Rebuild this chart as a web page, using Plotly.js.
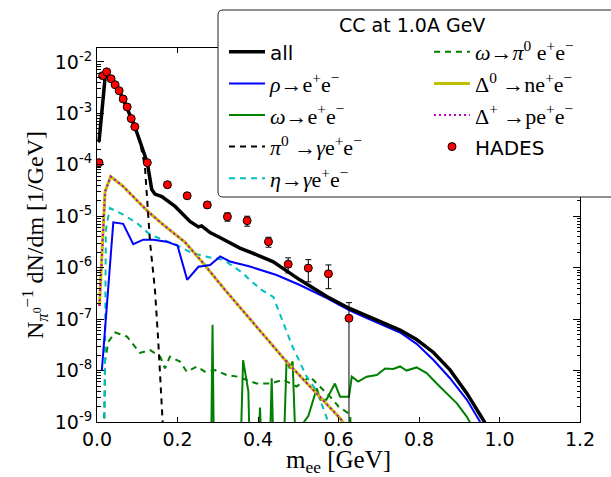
<!DOCTYPE html>
<html>
<head>
<meta charset="utf-8">
<script src="https://cdn.plot.ly/plotly-3.0.1.min.js"></script>
<style>html,body{margin:0;padding:0;background:#fff;}#chart{width:611px;height:477px;}</style>
</head>
<body>
<div id="chart"></div>
<script>
// ---- data ----
const allX = [0.005,0.0216,0.035,0.05,0.065,0.08,0.094,0.107,0.125,0.136,0.144,0.161,0.194,0.231,0.252,0.260,0.281,0.31,0.355,0.40,0.438,0.504,0.571,0.626,0.670,0.711,0.753,0.794,0.836,0.877,0.919,0.952,0.975];
const allY = [2.8e-4,6.5e-3,4.7e-3,3.2e-3,1.9e-3,1.02e-3,5.5e-4,2.8e-4,1.1e-4,3.3e-5,2.7e-5,2.4e-5,1.55e-5,7.9e-6,6.2e-6,6.5e-6,4.8e-6,3.7e-6,2.4e-6,1.74e-6,1.3e-6,5.8e-7,2.75e-7,1.63e-7,1.15e-7,8.5e-8,6.1e-8,4.0e-8,2.25e-8,1.03e-8,3.6e-9,1.37e-9,7e-10];

const rhoX = [0.012,0.0405,0.065,0.090,0.115,0.140,0.173,0.200,0.224,0.252,0.281,0.306,0.330,0.380,0.446,0.504,0.571,0.626,0.670,0.711,0.753,0.794,0.836,0.877,0.919,0.952,0.97];
const rhoY = [1e-8,7.6e-6,7.1e-6,2.86e-6,3.5e-6,3.5e-6,3.2e-6,2.7e-6,5.8e-7,1.04e-6,1.13e-6,1.65e-6,1.32e-6,1.05e-6,7.2e-7,4.6e-7,2.55e-7,1.5e-7,1.05e-7,7.6e-8,5.5e-8,3.3e-8,1.6e-8,7.1e-9,2.7e-9,1e-9,6e-10];

const omegaX = [0.283,0.287,0.291,0.355,0.363,0.376,0.381,0.398,0.405,0.411,0.428,0.434,0.440,0.462,0.471,0.479,0.486,0.496,0.505,0.525,0.546,0.555,0.570,0.591,0.604,0.626,0.633,0.649,0.670,0.695,0.716,0.736,0.753,0.769,0.794,0.819,0.844,0.869,0.894,0.919,0.927,0.94];
const omegaY = [1e-10,7.8e-8,1e-10,1e-10,1.6e-8,4e-9,1e-10,1e-10,1.9e-9,1e-10,1e-10,7.1e-9,1e-10,1e-10,1.6e-8,1.1e-8,1.5e-8,1e-10,8e-10,1.3e-9,4.5e-9,2.7e-9,2.7e-9,5.6e-9,3.1e-9,3.1e-9,7.6e-9,6.1e-9,7.6e-9,8.2e-9,1.1e-8,1.07e-8,1.2e-8,1.0e-8,1.15e-8,8.9e-9,5.6e-9,3.6e-9,2.3e-9,1.26e-9,9.7e-10,1e-10];

const pi0X = [0.005,0.0216,0.035,0.05,0.065,0.08,0.094,0.107,0.119,0.132,0.144,0.152,0.160,0.165,0.17];
const pi0Y = [2.7e-4,6.4e-3,4.6e-3,3.1e-3,1.85e-3,1.0e-3,5.4e-4,2.7e-4,9.3e-5,3.0e-6,3.7e-7,4e-8,3.1e-9,1.1e-9,1e-10];

const etaX = [0.018,0.022,0.032,0.065,0.099,0.127,0.148,0.198,0.231,0.268,0.314,0.363,0.38,0.409,0.438,0.485,0.521,0.546,0.571,0.58];
const etaY = [1e-10,5.4e-6,1.44e-5,1.07e-5,7.4e-6,4.7e-6,3.9e-6,2.75e-6,2.0e-6,1.65e-6,1.42e-6,7.8e-7,5.7e-7,3.7e-7,2.7e-7,3e-8,7.6e-9,4.0e-9,1.2e-9,1e-10];

const omegaDalitzX = [0.016,0.02,0.028,0.045,0.074,0.107,0.132,0.157,0.169,0.181,0.206,0.223,0.248,0.268,0.293,0.322,0.35,0.396,0.43,0.463,0.496,0.529,0.562,0.575,0.6,0.629,0.635];
const omegaDalitzY = [1e-10,1.5e-8,3.6e-8,5.5e-8,4.6e-8,2.2e-8,2.5e-8,1.86e-8,1.1e-8,1.86e-8,1.5e-8,9.5e-9,1.2e-8,9.5e-9,1.02e-8,8.2e-9,7.6e-9,5.6e-9,5.6e-9,6.6e-9,4.9e-9,7.6e-9,4.2e-9,3.4e-9,2e-9,1.4e-9,1e-10];

const delta0X = [0.006,0.02,0.034,0.05,0.065,0.1,0.127,0.165,0.219,0.264,0.318,0.40,0.471,0.55,0.604,0.625];
const delta0Y = [1.8e-7,3.0e-5,5.9e-5,4.7e-5,3.8e-5,2.0e-5,1.23e-5,6.8e-6,3.1e-6,1.22e-6,3.7e-7,6.6e-8,1.48e-8,3.3e-9,1.18e-9,7e-10];
const deltaPX = [0.006,0.02,0.034,0.05,0.065,0.1,0.127,0.165,0.219,0.264,0.318,0.40,0.471,0.55,0.604,0.625];
const deltaPY = [1.8e-7,3.0e-5,5.9e-5,4.7e-5,3.8e-5,2.0e-5,1.23e-5,6.8e-6,3.1e-6,1.22e-6,3.7e-7,6.6e-8,1.48e-8,3.3e-9,1.18e-9,7e-10];

const hadesX = [0.005,0.014,0.024,0.035,0.045,0.055,0.065,0.075,0.085,0.094,0.125,0.175,0.224,0.274,0.324,0.373,0.426,0.475,0.525,0.575,0.626];
const hadesY = [1.1e-4,5.4e-3,6.4e-3,4.7e-3,3.6e-3,2.76e-3,1.9e-3,1.33e-3,7.9e-4,5.5e-4,1.1e-4,4.1e-5,2.5e-5,1.66e-5,9.8e-6,8.2e-6,3.2e-6,1.17e-6,9.8e-7,7.6e-7,1.04e-7];
const hadesErr = [8e-6,3e-4,3e-4,2e-4,1.6e-4,1.2e-4,9e-5,6e-5,4e-5,3e-5,8e-6,5e-6,3e-6,2.2e-6,1.8e-6,1.8e-6,7e-7,3.8e-7,4.5e-7,3.7e-7,1.05e-7];

const yTickVals = [1e-9,1e-8,1e-7,1e-6,1e-5,1e-4,1e-3,1e-2];
const yTickText = ['10<sup>-9</sup>','10<sup>-8</sup>','10<sup>-7</sup>','10<sup>-6</sup>','10<sup>-5</sup>','10<sup>-4</sup>','10<sup>-3</sup>','10<sup>-2</sup>'];
const xTickVals = [0,0.2,0.4,0.6,0.8,1.0,1.2];
const xTickText = ['0.0','0.2','0.4','0.6','0.8','1.0','1.2'];
const legendTitle = 'CC at 1.0A GeV';

// minor log ticks
const minorVals = [];
for (let e = -9; e < -1; e++) for (let d = 2; d <= 9; d++) minorVals.push(d * Math.pow(10, e));

const sans = "'DejaVu Sans'";
const line = (x, y, name, color, width, dash, leg, rank) => ({
  type: 'scatter', mode: 'lines', x, y, name,
  line: {color, width, dash: dash || 'solid'},
  legend: leg, legendgroup: 'g' + leg + rank, legendrank: rank, hoverinfo: 'skip'
});

const traces = [
  line(omegaX, omegaY, '<i>ω</i>→e<sup>+</sup>e<sup>−</sup>', '#008000', 2, 'solid', 'legend', 3),
  line(omegaDalitzX, omegaDalitzY, '<i>ω</i>→<i>π</i><sup>0</sup> e<sup>+</sup>e<sup>−</sup>', '#008000', 2, '6px,5px', 'legend2', 1),
  line(etaX, etaY, '<i>η</i>→<i>γ</i>e<sup>+</sup>e<sup>−</sup>', '#00bfbf', 2, '6px,5px', 'legend', 5),
  line(delta0X, delta0Y, 'Δ<sup>0</sup> →ne<sup>+</sup>e<sup>−</sup>', '#bfbf00', 3, 'solid', 'legend2', 2),
  line(deltaPX, deltaPY, 'Δ<sup>+</sup> →pe<sup>+</sup>e<sup>−</sup>', '#bf00bf', 2, '2px,3px', 'legend2', 3),
  line(rhoX, rhoY, '<i>ρ</i>→e<sup>+</sup>e<sup>−</sup>', '#0000ff', 2, 'solid', 'legend', 2),
  line(pi0X, pi0Y, '<i>π</i><sup>0</sup> →<i>γ</i>e<sup>+</sup>e<sup>−</sup>', '#000000', 2, '6px,5px', 'legend', 4),
  line(allX, allY, '<span style="font-family:' + sans + ';font-size:20px">all</span>', '#000000', 3.5, 'solid', 'legend', 1),
  {
    type: 'scatter', mode: 'markers', x: hadesX, y: hadesY,
    name: '<span style="font-family:' + sans + ';font-size:20px">HADES</span>',
    marker: {color: '#ff0000', size: 8, line: {color: '#000', width: 1}},
    error_y: {type: 'data', array: hadesErr, visible: true, color: '#000', thickness: 1, width: 3},
    legend: 'legend2', legendgroup: 'h4', legendrank: 4, hoverinfo: 'skip'
  }
];

// legend frame (paper coordinates)
const px2x = p => (p - 97) / 483;
const px2y = p => (422 - p) / 374;
const bx0 = px2x(218), bx1 = px2x(640), by0 = px2y(197), by1 = px2y(10);
const rx = 5 / 483, ry = 5 / 374;
const framePath = `M${bx0 + rx},${by1} L${bx1},${by1} L${bx1},${by0} L${bx0 + rx},${by0} Q${bx0},${by0} ${bx0},${by0 + ry} L${bx0},${by1 - ry} Q${bx0},${by1} ${bx0 + rx},${by1} Z`;

const legCommon = {
  orientation: 'v', bgcolor: 'rgba(0,0,0,0)', borderwidth: 0,
  font: {family: "'Liberation Serif'", size: 22, color: '#000'},
  itemwidth: 36, traceorder: 'grouped', tracegroupgap: 0,
  yanchor: 'top', xanchor: 'left'
};

const layout = {
  width: 611, height: 477,
  margin: {l: 97, r: 31, t: 48, b: 55, autoexpand: false},
  paper_bgcolor: '#fff', plot_bgcolor: '#fff',
  showlegend: true,
  font: {family: sans, color: '#000'},
  xaxis: {
    range: [0, 1.2], tickmode: 'array', tickvals: xTickVals, ticktext: xTickText,
    ticks: 'inside', ticklen: 5, tickwidth: 1, tickcolor: '#000',
    showline: true, linecolor: '#000', linewidth: 1, mirror: 'ticks',
    showgrid: false, zeroline: false,
    tickfont: {family: sans, size: 19, color: '#000'},
    title: {text: 'm<sub>ee</sub> [GeV]', font: {family: "'Liberation Serif'", size: 25, color: '#000'}, standoff: 12},
    automargin: false
  },
  yaxis: {
    type: 'log', range: [-9, -1.73], tickmode: 'array', tickvals: yTickVals, ticktext: yTickText,
    ticks: 'inside', ticklen: 7, tickwidth: 1, tickcolor: '#000',
    minor: {tickmode: 'array', tickvals: minorVals, ticks: 'inside', ticklen: 3.5, tickcolor: '#000', tickwidth: 1, showgrid: false},
    showline: true, linecolor: '#000', linewidth: 1, mirror: 'ticks',
    showgrid: false, zeroline: false,
    tickfont: {family: sans, size: 19, color: '#000'},
    title: {text: 'N<sub><i>π</i><sup>0</sup></sub><sup>−1</sup> dN/dm [1/GeV]', font: {family: "'Liberation Serif'", size: 24, color: '#000'}, standoff: 4},
    automargin: false
  },
  shapes: [{
    type: 'path', xref: 'paper', yref: 'paper', path: framePath, layer: 'above',
    fillcolor: '#fff', line: {color: '#222', width: 1}
  }],
  annotations: [{
    xref: 'paper', yref: 'paper', x: px2x(412), y: px2y(25), xanchor: 'center', yanchor: 'middle',
    text: legendTitle, showarrow: false, font: {family: sans, size: 19, color: '#000'}
  }],
  legend: Object.assign({}, legCommon, {x: px2x(224), y: px2y(31)}),
  legend2: Object.assign({}, legCommon, {x: px2x(429), y: px2y(31)})
};

Plotly.newPlot('chart', traces, layout, {staticPlot: true, displayModeBar: false});
</script>
</body>
</html>
